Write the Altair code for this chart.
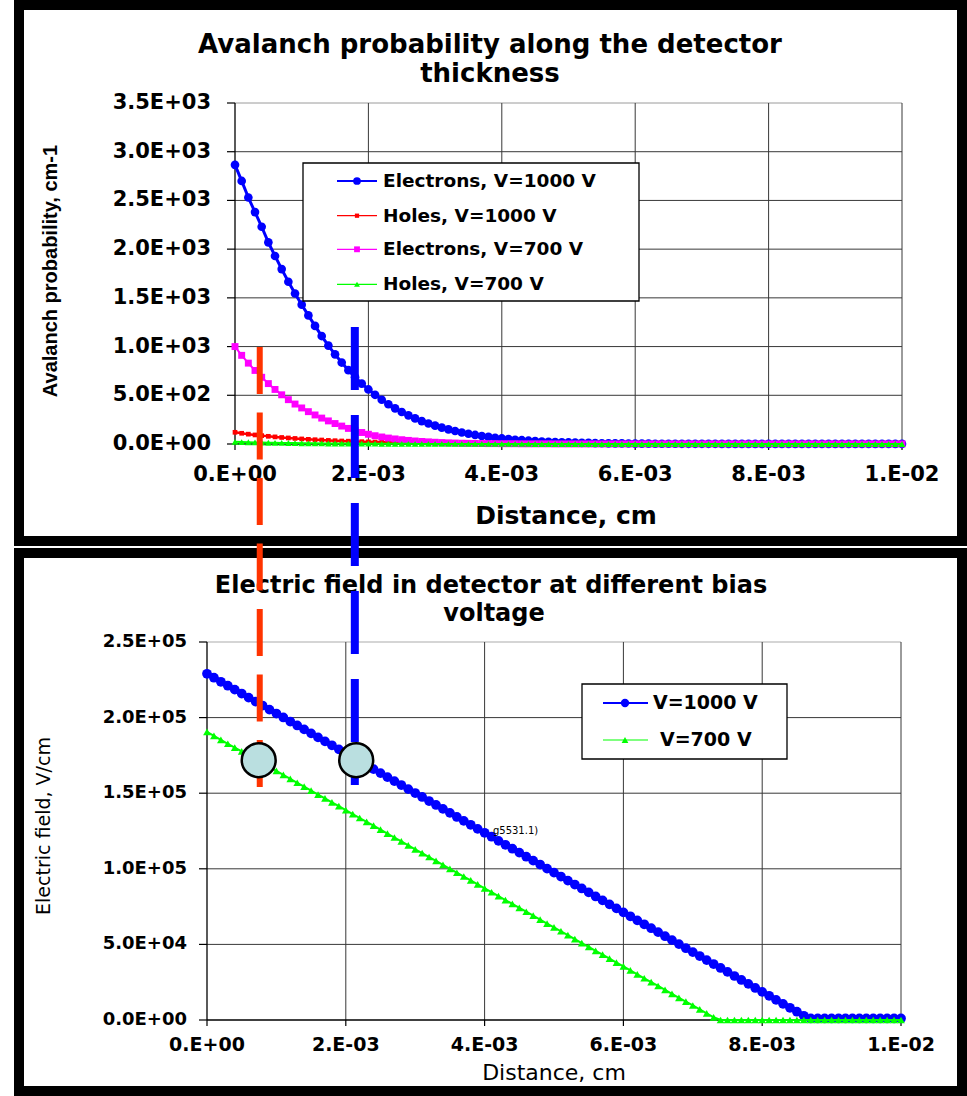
import altair as alt
import pandas as pd

W, H = 967, 1096

# ---------------------------------------------------------------- data
# Excel sample grid across the detector thickness (cm): one point every 1E-4 cm
distance_cm = [round(i * 1e-4, 4) for i in range(101)]

# top chart: avalanche probability, cm-1
aval_electrons_1000 = [
    2865, 2700, 2530, 2380, 2230, 2070, 1930, 1795, 1665, 1545,
    1430, 1320, 1212, 1108, 1010, 920, 836, 758, 686, 620,
    560, 505, 454, 408, 366, 328, 294, 263, 235, 210,
    188, 168, 150, 133, 118, 105, 93, 82, 73, 64,
    57, 50, 44, 39, 34, 30, 26, 23, 20, 18,
    16, 14, 12, 11, 9, 8, 7, 6, 6, 5,
    4, 4, 4, 3, 3, 3, 3, 2, 2, 2,
    2, 2, 2, 1, 1, 1, 1, 1, 1, 1,
    1, 1, 1, 1, 1, 1, 1, 1, 1, 1,
    1, 1, 1, 1, 1, 1, 1, 1, 1, 1,
    1]
aval_holes_1000 = [
    120, 110, 101, 93, 86, 79, 73, 67, 62, 57,
    52, 48, 44, 41, 37, 34, 31, 29, 26, 24,
    22, 20, 18, 17, 15, 14, 13, 12, 11, 10,
    9, 8, 7, 7, 6, 6, 5, 5, 4, 4,
    4, 3, 3, 3, 3, 2, 2, 2, 2, 2,
    2, 2, 1, 1, 1, 1, 1, 1, 1, 1,
    1, 1, 1, 1, 1, 1, 1, 1, 1, 1,
    1, 1, 1, 1, 1, 0, 0, 0, 0, 0,
    0, 0, 0, 0, 0, 0, 0, 0, 0, 0,
    0, 0, 0, 0, 0, 0, 0, 0, 0, 0,
    0]
aval_electrons_700 = [
    1000, 910, 830, 755, 685, 620, 560, 505, 455, 410,
    370, 332, 298, 266, 237, 210, 184, 160, 138, 118,
    100, 85, 72, 61, 52, 44, 37, 31, 26, 22,
    18, 15, 12, 10, 8, 7, 6, 5, 4, 4,
    3, 3, 3, 2, 2, 2, 2, 2, 1, 1,
    1, 1, 1, 1, 1, 1, 1, 1, 1, 1,
    1, 1, 1, 1, 1, 1, 1, 1, 1, 1,
    1, 1, 1, 1, 1, 1, 1, 1, 1, 1,
    1, 1, 1, 1, 1, 1, 1, 1, 1, 1,
    1, 1, 1, 1, 1, 1, 1, 1, 1, 1,
    1]
aval_holes_700 = [
    22, 20, 18, 16, 15, 13, 12, 11, 10, 9,
    8, 7, 7, 6, 5, 5, 4, 4, 4, 3,
    3, 3, 2, 2, 2, 2, 2, 1, 1, 1,
    1, 1, 1, 1, 1, 1, 1, 1, 1, 1,
    1, 1, 1, 1, 1, 0, 0, 0, 0, 0,
    0, 0, 0, 0, 0, 0, 0, 0, 0, 0,
    0, 0, 0, 0, 0, 0, 0, 0, 0, 0,
    0, 0, 0, 0, 0, 0, 0, 0, 0, 0,
    0, 0, 0, 0, 0, 0, 0, 0, 0, 0,
    0, 0, 0, 0, 0, 0, 0, 0, 0, 0,
    0]

# bottom chart: electric field, V/cm
field_1000 = [
    229000, 226400, 223700, 221100, 218500, 215900, 213200, 210600, 208000, 205300,
    202700, 200100, 197400, 194800, 192200, 189600, 186900, 184300, 181700, 179000,
    176400, 173800, 171100, 168500, 165900, 163300, 160600, 158000, 155400, 152700,
    150100, 147500, 144800, 142200, 139600, 137000, 134300, 131700, 129100, 126400,
    123800, 121200, 118500, 115900, 113300, 110700, 108000, 105400, 102800, 100100,
    97500, 94900, 92200, 89600, 87000, 84400, 81700, 79100, 76500, 73800,
    71200, 68600, 65900, 63300, 60700, 58100, 55400, 52800, 50200, 47500,
    44900, 42300, 39600, 37000, 34400, 31800, 29100, 26500, 23900, 21200,
    18600, 16000, 13300, 10700, 8100, 5500, 2800, 1000, 1000, 1000,
    1000, 1000, 1000, 1000, 1000, 1000, 1000, 1000, 1000, 1000,
    1000]
field_700 = [
    190500, 187900, 185300, 182700, 180200, 177600, 175000, 172400, 169800, 167200,
    164700, 162100, 159500, 156900, 154300, 151700, 149100, 146600, 144000, 141400,
    138800, 136200, 133600, 131000, 128500, 125900, 123300, 120700, 118100, 115500,
    112900, 110400, 107800, 105200, 102600, 100000, 97400, 94900, 92300, 89700,
    87100, 84500, 81900, 79300, 76800, 74200, 71600, 69000, 66400, 63800,
    61300, 58700, 56100, 53500, 50900, 48300, 45700, 43200, 40600, 38000,
    35400, 32800, 30200, 27600, 25100, 22500, 19900, 17300, 14700, 12100,
    9600, 7000, 4400, 1800, 0, 0, 0, 0, 0, 0,
    0, 0, 0, 0, 0, 0, 0, 0, 0, 0,
    0, 0, 0, 0, 0, 0, 0, 0, 0, 0,
    0]

top_y_ticks = [0, 500, 1000, 1500, 2000, 2500, 3000, 3500]
top_y_labels = ["0.0E+00", "5.0E+02", "1.0E+03", "1.5E+03", "2.0E+03", "2.5E+03", "3.0E+03", "3.5E+03"]
bot_y_ticks = [0, 50000, 100000, 150000, 200000, 250000]
bot_y_labels = ["0.0E+00", "5.0E+04", "1.0E+05", "1.5E+05", "2.0E+05", "2.5E+05"]
x_ticks = [0.0, 0.002, 0.004, 0.006, 0.008, 0.01]
x_labels = ["0.E+00", "2.E-03", "4.E-03", "6.E-03", "8.E-03", "1.E-02"]

top_series = ["Electrons, V=1000 V", "Holes, V=1000 V", "Electrons, V=700 V", "Holes, V=700 V"]
bot_series = ["V=1000 V", "V=700 V"]

# annotations in bottom-chart units: guide lines and marker circles
guide_x = [7.6e-4, 2.13e-3]
guide_y_top = [445100, 458300]
guide_y_low = [152100, 155400]
circle_x = [7.45e-4, 2.15e-3]
circle_y = [171800, 171800]
note_text = "g5531.1)"
note_x, note_y = [4.12e-3], [124800]

# ---------------------------------------------------------------- layout / style
TICK_FONT = "DejaVu Sans"
TOP = dict(px0=235, px1=902, py0=444, py1=103, vmax=3500)
BOT = dict(px0=207, px1=901, py0=1020, py1=642, vmax=250000)


def xs_for(p):
    s = (p["px1"] - p["px0"]) / 0.01
    return alt.Scale(domain=[-p["px0"] / s, (W - p["px0"]) / s], range=[0, W], nice=False, zero=False)


def ys_for(p):
    s = (p["py0"] - p["py1"]) / p["vmax"]
    return alt.Scale(domain=[-(H - p["py0"]) / s, p["py0"] / s], range=[H, 0], nice=False, zero=False)


def text_at(txt, px, py, size, weight="bold", font="DejaVu Sans", align="center", angle=0):
    df = pd.DataFrame({"t": [txt]})
    return alt.Chart(df).mark_text(
        align=align, baseline="middle", font=font, fontSize=size, fontWeight=weight,
        angle=angle, color="black"
    ).encode(x=alt.value(px), y=alt.value(py), text="t:N")


def axes_layers(p, yticks, ylabels, ylab_x, ylab_size, xlab_y, xlab_size, top_color):
    xs, ys = xs_for(p), ys_for(p)
    out = []
    hg = pd.DataFrame({"v": yticks[1:-1], "a": 0.0, "b": 0.01})
    out.append(alt.Chart(hg).mark_rule(color="#383838", strokeWidth=1).encode(
        y=alt.Y("v:Q", scale=ys, axis=None), x=alt.X("a:Q", scale=xs, axis=None), x2=alt.X2("b")))
    tg = pd.DataFrame({"v": yticks[-1:], "a": 0.0, "b": 0.01})
    out.append(alt.Chart(tg).mark_rule(color=top_color, strokeWidth=1).encode(
        y=alt.Y("v:Q", scale=ys, axis=None), x=alt.X("a:Q", scale=xs, axis=None), x2=alt.X2("b")))
    vg = pd.DataFrame({"v": x_ticks[1:], "a": 0.0, "b": float(p["vmax"])})
    out.append(alt.Chart(vg).mark_rule(color="#383838", strokeWidth=1).encode(
        x=alt.X("v:Q", scale=xs, axis=None), y=alt.Y("a:Q", scale=ys, axis=None), y2=alt.Y2("b")))
    ax = pd.DataFrame({"x": [0.0, 0.0], "x2": [0.0, 0.01], "y": [0.0, 0.0], "y2": [float(p["vmax"]), 0.0]})
    out.append(alt.Chart(ax).mark_rule(color="black", strokeWidth=1.3).encode(
        x=alt.X("x:Q", scale=xs, axis=None), x2=alt.X2("x2"),
        y=alt.Y("y:Q", scale=ys, axis=None), y2=alt.Y2("y2")))
    yt = pd.DataFrame({"v": yticks, "lab": ylabels})
    out.append(alt.Chart(yt).mark_rule(color="black", strokeWidth=1.2).encode(
        y=alt.Y("v:Q", scale=ys, axis=None), x=alt.value(p["px0"] - 8), x2=alt.value(p["px0"])))
    out.append(alt.Chart(yt).mark_text(
        align="right", baseline="middle", font=TICK_FONT, fontSize=ylab_size, fontWeight="bold", color="black"
    ).encode(y=alt.Y("v:Q", scale=ys, axis=None), x=alt.value(ylab_x), text="lab:N"))
    xt = pd.DataFrame({"v": x_ticks, "lab": x_labels})
    out.append(alt.Chart(xt).mark_rule(color="black", strokeWidth=1.2).encode(
        x=alt.X("v:Q", scale=xs, axis=None), y=alt.value(p["py0"]), y2=alt.value(p["py0"] + 6)))
    out.append(alt.Chart(xt).mark_text(
        align="center", baseline="middle", font=TICK_FONT, fontSize=xlab_size, fontWeight="bold", color="black"
    ).encode(x=alt.X("v:Q", scale=xs, axis=None), y=alt.value(xlab_y), text="lab:N"))
    return out


def series_layers(p, df, col, color, shape, size, lw):
    xs, ys = xs_for(p), ys_for(p)
    enc = dict(x=alt.X("x:Q", scale=xs, axis=None), y=alt.Y(f"{col}:Q", scale=ys, axis=None))
    line = alt.Chart(df).mark_line(color=color, strokeWidth=lw).encode(**enc)
    pts = alt.Chart(df).mark_point(shape=shape, size=size, filled=True, color=color, opacity=1,
                                   strokeWidth=0).encode(**enc)
    return [line, pts]


def legend_layers(box, rows, x_line0, x_line1, x_mark, size):
    out = []
    bdf = pd.DataFrame({"k": [0]})
    out.append(alt.Chart(bdf).mark_rect(fill="white", stroke="black", strokeWidth=1.3).encode(
        x=alt.value(box[0]), x2=alt.value(box[1]), y=alt.value(box[2]), y2=alt.value(box[3])))
    out.append(alt.Chart(rows).mark_rule().encode(
        x=alt.value(x_line0), x2=alt.value(x_line1), y=alt.Y("py:Q", scale=None, axis=None),
        color=alt.Color("color:N", scale=None, legend=None),
        strokeWidth=alt.StrokeWidth("lw:Q", scale=None, legend=None)))
    out.append(alt.Chart(rows).mark_point(filled=True, opacity=1, strokeWidth=0).encode(
        x=alt.value(x_mark), y=alt.Y("py:Q", scale=None, axis=None),
        color=alt.Color("color:N", scale=None, legend=None),
        shape=alt.Shape("shape:N", scale=None, legend=None),
        size=alt.Size("msize:Q", scale=None, legend=None)))
    out.append(alt.Chart(rows).mark_text(
        align="left", baseline="middle", font="DejaVu Sans", fontSize=size, fontWeight="bold", color="black"
    ).encode(x=alt.X("tx:Q", scale=None, axis=None), y=alt.Y("py:Q", scale=None, axis=None), text="label:N"))
    return out


L = []

# panel frames
frames = pd.DataFrame({"x": [19, 19], "x2": [962, 962], "y": [5, 553], "y2": [541, 1091]})
L.append(alt.Chart(frames).mark_rect(fillOpacity=0, stroke="black", strokeWidth=10).encode(
    x=alt.X("x:Q", scale=None, axis=None), x2=alt.X2("x2"),
    y=alt.Y("y:Q", scale=None, axis=None), y2=alt.Y2("y2")))

# ---------------- top chart
top_df = pd.DataFrame({"x": distance_cm, "e1000": aval_electrons_1000, "h1000": aval_holes_1000,
                       "e700": aval_electrons_700, "h700": aval_holes_700})
L += axes_layers(TOP, top_y_ticks, top_y_labels, 211, 21, 475, 21, "#9a9a9a")
L += series_layers(TOP, top_df, "e1000", "#0000ff", "circle", 75, 3)
L += series_layers(TOP, top_df, "h1000", "#ff0000", "square", 22, 2.5)
L += series_layers(TOP, top_df, "e700", "#ff00ff", "square", 48, 2)
L += series_layers(TOP, top_df, "h700", "#00ff00", "triangle-up", 45, 2)

top_leg = pd.DataFrame({
    "label": top_series,
    "color": ["#0000ff", "#ff0000", "#ff00ff", "#00ff00"],
    "shape": ["circle", "square", "square", "triangle-up"],
    "msize": [60, 18, 34, 34],
    "lw": [2.2, 1.2, 1.2, 1.2],
    "py": [181, 215.7, 249.3, 284.3],
    "tx": [383, 383, 383, 383],
})
L += legend_layers((303, 639, 163, 301), top_leg, 337, 377, 357, 18.5)

L.append(text_at("Avalanch probability along the detector", 490, 45, 26))
L.append(text_at("thickness", 490, 74, 26))
L.append(text_at("Distance, cm", 566, 516, 25))
L.append(text_at("Avalanch probability, cm-1", 51, 271, 20, font="Liberation Sans", angle=270))

# ---------------- bottom chart
bot_df = pd.DataFrame({"x": distance_cm, "v1000": field_1000, "v700": field_700})
L += axes_layers(BOT, bot_y_ticks, bot_y_labels, 187, 18, 1045, 19, "#ababab")
L += series_layers(BOT, bot_df, "v1000", "#0000ff", "circle", 95, 5)
L += series_layers(BOT, bot_df, "v700", "#00ff00", "triangle-up", 60, 2)

bot_leg = pd.DataFrame({
    "label": bot_series,
    "color": ["#0000ff", "#00ff00"],
    "shape": ["circle", "triangle-up"],
    "msize": [70, 45],
    "lw": [2.2, 1.2],
    "py": [703, 740],
    "tx": [653, 660],
})
L += legend_layers((582, 787, 684, 759), bot_leg, 603, 648, 625, 19)

L.append(text_at("Electric field in detector at different bias", 491, 586, 24))
L.append(text_at("voltage", 494, 614, 24))
L.append(text_at("Distance, cm", 554, 1073, 22, weight="normal"))
L.append(text_at("Electric field, V/cm", 44, 826, 19, weight="normal", angle=270))

bxs, bys = xs_for(BOT), ys_for(BOT)
note_df = pd.DataFrame({"x": note_x, "y": note_y, "t": [note_text]})
L.append(alt.Chart(note_df).mark_text(align="left", baseline="middle", font="DejaVu Sans", fontSize=10,
                                      color="black").encode(
    x=alt.X("x:Q", scale=bxs, axis=None), y=alt.Y("y:Q", scale=bys, axis=None), text="t:N"))

# ---------------- guide lines and circles linking the two charts
red_df = pd.DataFrame({"x": guide_x[:1], "y": guide_y_top[:1], "y2": guide_y_low[:1]})
blue_df = pd.DataFrame({"x": guide_x[1:], "y": guide_y_top[1:], "y2": guide_y_low[1:]})
L.append(alt.Chart(red_df).mark_rule(color="#ff3300", strokeWidth=6, strokeDash=[47, 18.5], strokeCap="butt").encode(
    x=alt.X("x:Q", scale=bxs, axis=None), y=alt.Y("y:Q", scale=bys, axis=None), y2=alt.Y2("y2")))
L.append(alt.Chart(blue_df).mark_rule(color="#0000ff", strokeWidth=8, strokeDash=[63, 25], strokeCap="butt").encode(
    x=alt.X("x:Q", scale=bxs, axis=None), y=alt.Y("y:Q", scale=bys, axis=None), y2=alt.Y2("y2")))
circ_df = pd.DataFrame({"x": circle_x, "y": circle_y})
L.append(alt.Chart(circ_df).mark_point(shape="circle", size=1150, filled=True, fill="#badfe0", stroke="black",
                                       strokeWidth=2.5, opacity=1, fillOpacity=1, strokeOpacity=1).encode(
    x=alt.X("x:Q", scale=bxs, axis=None), y=alt.Y("y:Q", scale=bys, axis=None)))

chart = alt.layer(*L).resolve_scale(x="independent", y="independent").properties(
    width=W, height=H, padding=0, background="white",
    autosize=alt.AutoSizeParams(type="none"),
).configure_view(stroke="transparent")

chart.save("out.html", embed_options={"renderer": "svg", "actions": False})
